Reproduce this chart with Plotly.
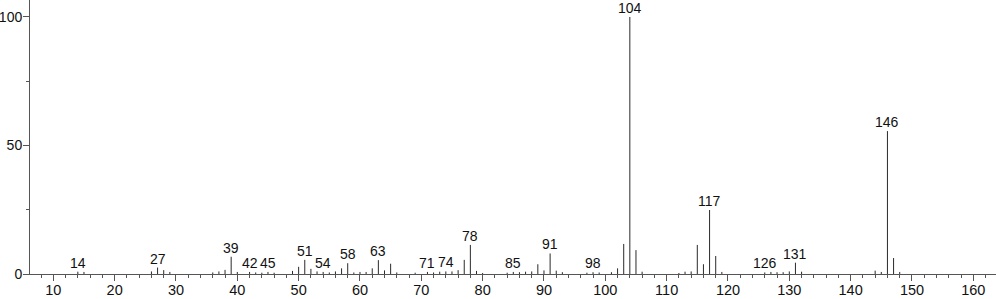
import plotly.graph_objects as go

mz = [14, 15,
      26, 27, 28, 29,
      36, 37, 38, 39, 40,
      42, 43, 44, 45, 46,
      49, 50, 51, 52, 53, 54, 55, 56, 57, 58, 59, 60, 61, 62, 63, 64, 65, 66,
      69, 71, 72, 73, 74, 75, 76, 77, 78, 79, 80,
      84, 85, 86, 87, 88, 89, 90, 91, 92, 93,
      97, 98, 99, 101, 102, 103, 104, 105, 106,
      112, 113, 114, 115, 116, 117, 118, 119,
      126, 127, 128, 129, 130, 131, 132,
      144, 145, 146, 147, 148]
intensity = [0.9, 0.8,
             1.0, 2.5, 1.5, 0.8,
             0.6, 1.0, 1.6, 6.7, 0.8,
             0.8, 0.6, 0.5, 0.8, 0.5,
             1.2, 2.8, 5.5, 2.0, 1.0, 0.8, 0.6, 1.0, 2.2, 4.2, 0.6, 0.8, 0.8, 2.2, 5.4, 1.4, 4.0, 0.6,
             0.5, 0.8, 0.6, 0.9, 1.0, 1.0, 1.5, 5.5, 11.3, 1.2, 0.4,
             0.5, 0.8, 0.7, 0.9, 1.0, 3.8, 1.4, 8.0, 1.3, 0.7,
             0.5, 0.7, 0.6, 0.7, 2.2, 11.7, 100.0, 9.3, 0.9,
             0.4, 0.9, 1.0, 11.3, 3.8, 24.9, 7.0, 0.8,
             0.6, 0.8, 0.7, 0.7, 1.0, 4.4, 0.9,
             1.3, 0.8, 55.6, 6.2, 0.8]

labeled = [14, 27, 39, 42, 45, 51, 54, 58, 63, 71, 74, 78, 85, 91, 98, 104, 117, 126, 131, 146]

xs, ys = [], []
for m, v in zip(mz, intensity):
    xs += [m, m, None]
    ys += [0, v, None]

fig = go.Figure()
fig.add_trace(go.Scatter(x=xs, y=ys, mode="lines",
                         line=dict(color="#2a2a2a", width=1),
                         hoverinfo="skip", showlegend=False))

lookup = dict(zip(mz, intensity))
for m in labeled:
    fig.add_annotation(x=m, y=lookup[m], text=str(m), showarrow=False,
                       xanchor="center", yanchor="bottom", yshift=-1,
                       font=dict(family="Liberation Sans, Arial, sans-serif", size=14, color="#111"))

axis_font = dict(family="Liberation Sans, Arial, sans-serif", size=14.5, color="#111")
yaxis_font = dict(family="Liberation Sans, Arial, sans-serif", size=14, color="#111")
fig.update_layout(
    width=996, height=299,
    margin=dict(l=30, r=0, t=0, b=25),
    paper_bgcolor="white", plot_bgcolor="white",
    xaxis=dict(range=[6.2, 163.7], tick0=0, dtick=10, ticks="outside", ticklen=6,
               tickcolor="#555", showline=True, linecolor="#555", linewidth=1,
               showgrid=False, zeroline=False, tickfont=axis_font, automargin=False,
               ticklabelstandoff=-3,
               minor=dict(dtick=2, tick0=0, ticks="outside", ticklen=3, tickcolor="#555", showgrid=False)),
    yaxis=dict(range=[0, 106.6], tick0=0, dtick=50, ticks="outside", ticklen=6,
               tickcolor="#555", showline=True, linecolor="#555", linewidth=1,
               showgrid=False, zeroline=False, tickfont=yaxis_font, automargin=False,
               ticklabelstandoff=-2,
               minor=dict(dtick=25, tick0=0, ticks="outside", ticklen=3, tickcolor="#555", showgrid=False)),
)

fig.write_html("out.html")
